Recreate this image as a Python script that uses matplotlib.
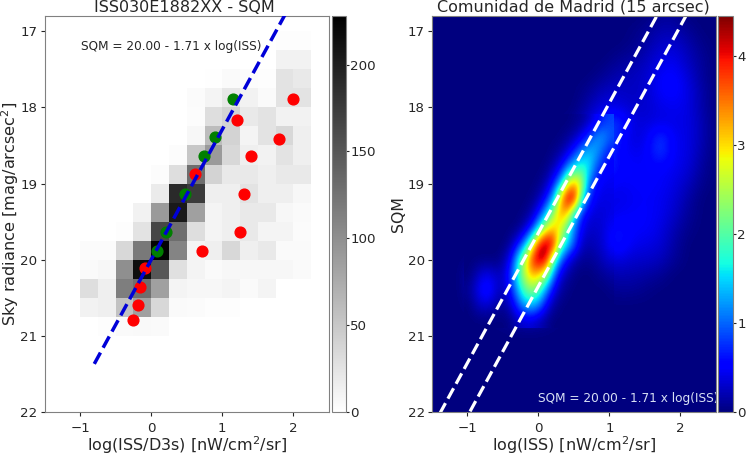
#!/usr/bin/env python3
"""Sky radiance vs ISS radiance: binned SQM comparison and Madrid density map."""

import matplotlib

matplotlib.use("Agg")

import matplotlib.pyplot as plt
import numpy as np

W, H = 746, 455
INK = "#262626"
EDGE = "#808080"

# left panel: counts per 0.25 x 0.25 bin
count_x_edges = np.arange(-1.0, 2.26, 0.25)
count_y_edges = np.arange(17.0, 21.01, 0.25)
counts = np.array([
    [0, 0, 0, 0, 0, 0, 0, 0, 0, 0, 0, 2, 2],
    [0, 0, 0, 0, 0, 0, 0, 0, 0, 0, 0, 12, 12],
    [0, 0, 0, 0, 0, 0, 0, 1, 5, 3, 2, 25, 20],
    [0, 0, 0, 0, 0, 0, 4, 10, 22, 12, 5, 25, 25],
    [0, 0, 0, 0, 0, 0, 3, 30, 40, 20, 25, 12, 12],
    [0, 0, 0, 0, 0, 0, 8, 60, 40, 10, 25, 35, 15],
    [0, 0, 0, 0, 0, 3, 50, 90, 35, 15, 12, 25, 15],
    [0, 0, 0, 0, 3, 30, 130, 40, 20, 20, 15, 20, 20],
    [0, 0, 0, 0, 18, 190, 175, 15, 15, 25, 15, 15, 8],
    [0, 0, 0, 12, 90, 205, 85, 10, 15, 20, 20, 8, 5],
    [0, 0, 2, 25, 165, 130, 30, 10, 15, 20, 10, 10, 4],
    [4, 4, 35, 120, 225, 110, 10, 15, 35, 15, 20, 5, 5],
    [5, 8, 100, 215, 150, 28, 10, 5, 8, 8, 8, 8, 5],
    [30, 15, 115, 130, 85, 10, 8, 8, 10, 5, 10, 0, 0],
    [12, 15, 55, 85, 35, 5, 4, 2, 2, 0, 0, 0, 0],
    [0, 2, 5, 6, 5, 0, 0, 0, 0, 0, 0, 0, 0],
])

red_x = [1.99, 1.21, 1.80, 1.40, 0.61, 1.31, 1.25, 0.71, -0.09, -0.155, -0.18, -0.26]
red_y = [17.89, 18.16, 18.41, 18.64, 18.88, 19.14, 19.64, 19.88, 20.11, 20.36, 20.59, 20.79]
green_x = [1.15, 0.90, 0.74, 0.47, 0.21, 0.075]
green_y = [17.89, 18.39, 18.64, 19.14, 19.64, 19.885]

fit_x = [-0.8, 1.9]
fit_y = [21.368, 16.751]
band_x = [-1.5, 2.5]
band_low_y = [22.215, 15.375]
band_high_y = [22.915, 16.075]

# right panel: diffuse density, columns x = -1.5 .. 2.5, rows y = 16.8 .. 22.0, step 0.2
density = np.array([
    [0, 0, 0, 0, 0, 0, 0, 0, 0, 0, 0, 0, 0, 0, 0, 0, .10, .10, 0, 0, 0],
    [0, 0, 0, 0, 0, 0, 0, 0, 0, 0, 0, 0, 0, 0, .02, .10, .20, .20, .10, 0, 0],
    [0, 0, 0, 0, 0, 0, 0, 0, 0, 0, 0, 0, 0, 0, .05, .15, .30, .35, .20, .05, 0],
    [0, 0, 0, 0, 0, 0, 0, 0, 0, 0, 0, 0, 0, .10, .15, .25, .40, .45, .25, .10, 0],
    [0, 0, 0, 0, 0, 0, 0, 0, 0, 0, 0, 0, .10, .20, .25, .30, .50, .55, .35, .10, 0],
    [0, 0, 0, 0, 0, 0, 0, 0, 0, 0, 0, .10, .25, .30, .25, .30, .50, .55, .40, .15, 0],
    [0, 0, 0, 0, 0, 0, 0, 0, 0, 0, 0, .20, .40, .40, .30, .30, .40, .45, .40, .15, 0],
    [0, 0, 0, 0, 0, 0, 0, 0, 0, 0, .10, .35, .70, .85, .40, .35, .40, .40, .40, .20, 0],
    [0, 0, 0, 0, 0, 0, 0, 0, 0, .05, .30, .90, 1.05, .70, .35, .40, .85, .45, .40, .20, 0],
    [0, 0, 0, 0, 0, 0, 0, 0, 0, .20, .80, 1.25, .90, .55, .45, .45, .85, .45, .40, .15, 0],
    [0, 0, 0, 0, 0, 0, 0, 0, .10, .70, 1.60, 1.60, .80, .60, .50, .50, .50, .45, .35, .10, 0],
    [0, 0, 0, 0, 0, 0, 0, .05, .40, 1.80, 2.60, 1.40, .60, .45, .50, .50, .50, .40, .25, .05, 0],
    [0, 0, 0, 0, 0, 0, 0, .10, 1.20, 3.30, 3.90, 1.00, .45, .40, .45, .50, .45, .35, .15, 0, 0],
    [0, 0, 0, 0, 0, 0, 0, .30, 2.20, 3.40, 2.00, .50, .40, .45, .50, .50, .45, .30, .10, 0, 0],
    [0, 0, 0, 0, 0, 0, .25, 1.30, 3.10, 2.70, 1.00, .40, .40, .65, .50, .50, .40, .20, .05, 0, 0],
    [0, 0, 0, 0, 0, .05, .90, 3.00, 4.30, 2.40, .60, .25, .35, .70, .45, .40, .35, .15, 0, 0, 0],
    [0, 0, 0, .05, .10, .30, 1.80, 4.20, 3.60, 1.30, .30, .15, .25, .40, .30, .30, .25, .10, 0, 0, 0],
    [0, 0, 0, .35, .35, .50, 1.90, 3.00, 2.50, .90, .15, .10, .15, .20, .20, .15, .10, 0, 0, 0, 0],
    [0, 0, 0, .30, .55, .40, 1.40, 2.00, 1.20, .40, .05, .05, .05, .10, .10, .05, 0, 0, 0, 0, 0],
    [0, 0, 0, .10, .30, .30, .90, 1.10, .60, .15, 0, 0, 0, 0, 0, 0, 0, 0, 0, 0, 0],
    [0, 0, 0, 0, 0, .05, .15, .20, .10, 0, 0, 0, 0, 0, 0, 0, 0, 0, 0, 0, 0],
    [0] * 21, [0] * 21, [0] * 21, [0] * 21, [0] * 21, [0] * 21,
])

# right panel: bright ridge, columns x = -1.0 .. 1.0 step 0.1, rows y = 18.2 .. 20.8 step 0.2
ridge = np.array([
    [0, 0, 0, 0, 0, 0, 0, 0, 0, 0, 0, 0, 0, 0, 0, .05, .10, .25, .45, .70, .85],
    [0, 0, 0, 0, 0, 0, 0, 0, 0, 0, 0, 0, 0, .02, .10, .20, .45, .80, 1.15, 1.25, .95],
    [0, 0, 0, 0, 0, 0, 0, 0, 0, 0, 0, 0, .05, .15, .35, .75, 1.20, 1.40, 1.30, .90, .60],
    [0, 0, 0, 0, 0, 0, 0, 0, 0, 0, 0, .05, .20, .50, 1.10, 1.60, 1.80, 1.60, .95, .60, .50],
    [0, 0, 0, 0, 0, 0, 0, 0, 0, 0, .05, .20, .60, 1.30, 2.60, 3.20, 2.60, 1.10, .60, .45, .45],
    [0, 0, 0, 0, 0, 0, 0, 0, 0, .05, .20, .55, 1.30, 3.00, 4.30, 4.20, 1.90, .80, .45, .40, .40],
    [0, 0, 0, 0, 0, 0, 0, 0, .05, .20, .60, 1.40, 2.40, 3.30, 3.10, 1.60, .70, .40, .35, .35, .40],
    [0, 0, 0, 0, 0, 0, 0, .05, .25, .70, 1.70, 2.70, 3.10, 2.80, 1.90, 1.00, .50, .30, .30, .35, .50],
    [0, 0, 0, 0, 0, 0, .15, .50, 1.20, 2.40, 3.90, 4.45, 4.10, 2.30, 1.50, .90, .30, .20, .25, .35, .55],
    [0, 0, 0, 0, 0, .15, .50, 1.50, 2.60, 3.80, 4.45, 4.10, 2.20, 1.10, .50, .20, .10, .10, .15, .25, .35],
    [0, .15, .35, .40, .30, .30, .80, 1.70, 2.60, 3.20, 3.00, 2.40, 1.20, .40, .15, .05, 0, 0, .05, .10, .15],
    [.10, .30, .60, .65, .35, .25, .60, 1.30, 2.00, 2.30, 2.00, 1.20, .50, .15, .05, 0, 0, 0, 0, 0, .05],
    [0, .15, .30, .30, .15, .10, .30, .80, 1.30, 1.40, 1.10, .50, .15, .03, 0, 0, 0, 0, 0, 0, 0],
    [0, 0, 0, 0, 0, 0, .05, .20, .30, .30, .20, .10, 0, 0, 0, 0, 0, 0, 0, 0, 0],
])

equation = "SQM = 20.00 - 1.71 x log(ISS)"
xticks = [-1, 0, 1, 2]
yticks = [17, 18, 19, 20, 21, 22]


def px_axes(fig, x0, y0, x1, y1):
    # pixel box measured from the top left corner of the picture
    return fig.add_axes([x0 / W, 1 - y1 / H, (x1 - x0) / W, (y1 - y0) / H])


def style(ax):
    ax.set_xlim(-1.5, 2.5)
    ax.set_ylim(22, 16.8)
    ax.set_xticks(xticks)
    ax.set_yticks(yticks)
    ax.tick_params(labelsize=9.6, length=3, color=INK, labelcolor=INK)
    ax.tick_params(axis="x", pad=4)
    ax.tick_params(axis="y", pad=2)
    for spine in ax.spines.values():
        spine.set_color(EDGE)


def style_cbar(cb, ticks):
    cb.set_ticks(ticks)
    cb.ax.tick_params(labelsize=9.6, length=2, color=INK, labelcolor=INK, pad=1)
    cb.outline.set_edgecolor(EDGE)


def main():
    plt.rcParams["font.family"] = "DejaVu Sans"
    plt.rcParams["mathtext.default"] = "regular"
    fig = plt.figure(figsize=(W / 100, H / 100), dpi=100)

    ax1 = px_axes(fig, 44.5, 16, 329, 412)
    mesh = ax1.pcolormesh(count_x_edges, count_y_edges, counts, cmap="gray_r", vmin=0, vmax=228)
    ax1.plot(fit_x, fit_y, "--", color="#0000d8", lw=2.5, zorder=3)
    ax1.scatter(red_x, red_y, s=60, color="#ff0000", zorder=2)
    ax1.scatter(green_x, green_y, s=60, color="#007f00", zorder=2)
    ax1.text(-0.99, 17.2, equation, fontsize=8.7, color=INK, va="center")
    style(ax1)
    ax1.set_title("ISS030E1882XX - SQM", fontsize=11.5, color=INK, pad=3, x=0.49)
    ax1.set_xlabel("log(ISS/D3s) [nW/cm$^2$/sr]", fontsize=11.5, color=INK, labelpad=0)
    ax1.set_ylabel("Sky radiance [mag/arcsec$^2$]", fontsize=11.6, color=INK)
    ax1.yaxis.set_label_coords(-0.083, 0.5)
    cax1 = px_axes(fig, 331.5, 16, 346, 412)
    style_cbar(fig.colorbar(mesh, cax=cax1), [0, 50, 100, 150, 200])

    ax2 = px_axes(fig, 431.7, 16, 716, 412)
    im = ax2.imshow(
        density,
        extent=[-1.6, 2.6, 22.1, 16.7],
        cmap="jet",
        vmin=0,
        vmax=4.45,
        aspect="auto",
        interpolation="bicubic",
    )
    ax2.imshow(
        ridge,
        extent=[-1.05, 1.05, 20.9, 18.1],
        cmap="jet",
        vmin=0,
        vmax=4.45,
        aspect="auto",
        interpolation="bicubic",
    )
    ax2.plot(band_x, band_low_y, "--", color="white", lw=2.3)
    ax2.plot(band_x, band_high_y, "--", color="white", lw=2.3)
    ax2.text(0.0, 21.82, equation, fontsize=8.7, color="#d8e0f4", va="center", clip_on=True)
    style(ax2)
    ax2.set_title("Comunidad de Madrid (15 arcsec)", fontsize=11.5, color=INK, pad=3)
    ax2.set_xlabel("log(ISS) [nW/cm$^2$/sr]", fontsize=11.5, color=INK, labelpad=0)
    ax2.set_ylabel("SQM", fontsize=11.3, color=INK)
    ax2.yaxis.set_label_coords(-0.09, 0.5)
    cax2 = px_axes(fig, 718, 16, 733, 412)
    style_cbar(fig.colorbar(im, cax=cax2), [0, 1, 2, 3, 4])

    fig.savefig("out.png", dpi=100)


if __name__ == "__main__":
    main()
